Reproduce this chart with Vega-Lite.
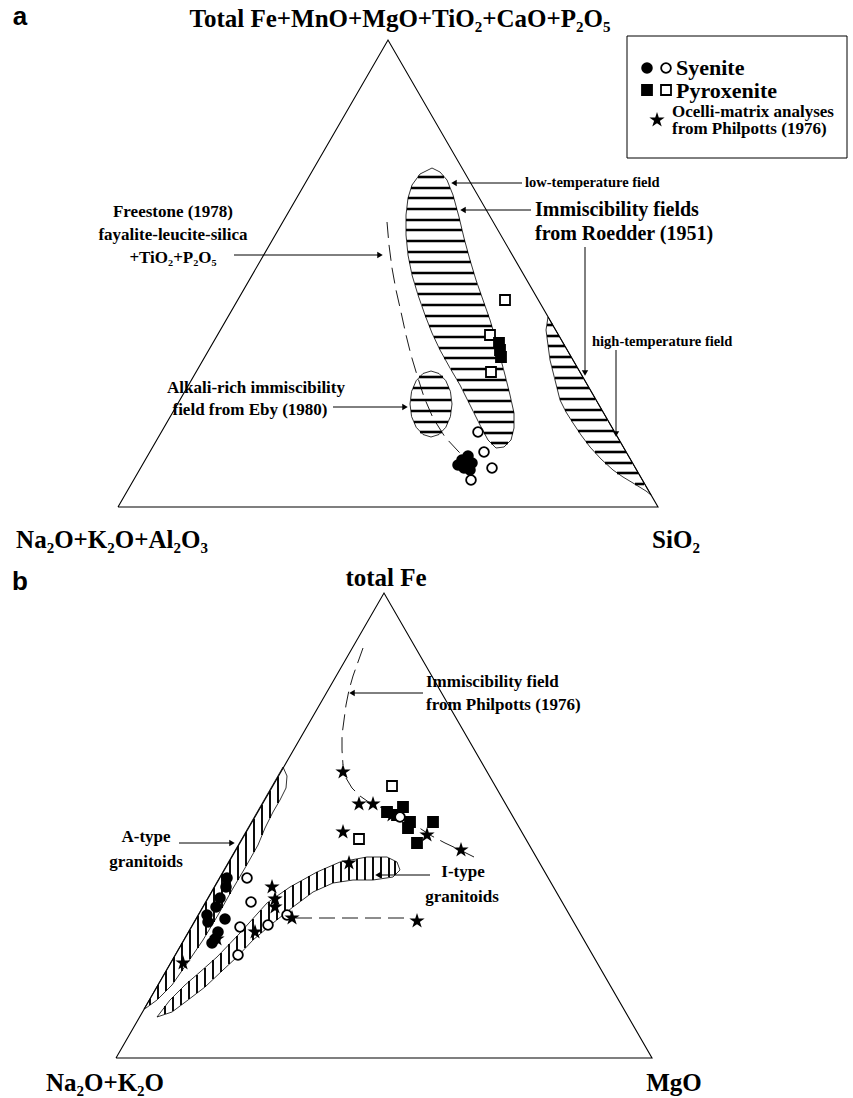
{
"$schema": "https://vega.github.io/schema/vega-lite/v6.json",
"width": 853, "height": 1098,
"autosize": {"type": "fit", "contains": "padding"},
"padding": 0,
"background": "white",
"config": {"view": {"stroke": null}},
"datasets": {
"tri": [
{"id":"A","o":0,"x":118,"y":507},{"id":"A","o":1,"x":388,"y":40},{"id":"A","o":2,"x":658,"y":507},{"id":"A","o":3,"x":118,"y":507},
{"id":"B","o":0,"x":116,"y":1058},{"id":"B","o":1,"x":384,"y":593},{"id":"B","o":2,"x":652,"y":1058},{"id":"B","o":3,"x":116,"y":1058}
],
"fields": [
{"id":"low","o":0,"x":432,"y":168},{"id":"low","o":1,"x":440,"y":172},{"id":"low","o":2,"x":447,"y":180},{"id":"low","o":3,"x":453,"y":195},{"id":"low","o":4,"x":459,"y":217},{"id":"low","o":5,"x":464,"y":238},{"id":"low","o":6,"x":470,"y":260},{"id":"low","o":7,"x":476,"y":280},{"id":"low","o":8,"x":483,"y":300},{"id":"low","o":9,"x":490,"y":320},{"id":"low","o":10,"x":496,"y":340},{"id":"low","o":11,"x":501,"y":360},{"id":"low","o":12,"x":505,"y":375},{"id":"low","o":13,"x":510,"y":395},{"id":"low","o":14,"x":514,"y":413},{"id":"low","o":15,"x":514,"y":428},{"id":"low","o":16,"x":511,"y":440},{"id":"low","o":17,"x":504,"y":447},{"id":"low","o":18,"x":496,"y":448},{"id":"low","o":19,"x":488,"y":440},{"id":"low","o":20,"x":480,"y":425},{"id":"low","o":21,"x":470,"y":405},{"id":"low","o":22,"x":460,"y":385},{"id":"low","o":23,"x":450,"y":368},{"id":"low","o":24,"x":440,"y":350},{"id":"low","o":25,"x":432,"y":333},{"id":"low","o":26,"x":425,"y":315},{"id":"low","o":27,"x":418,"y":295},{"id":"low","o":28,"x":412,"y":275},{"id":"low","o":29,"x":408,"y":255},{"id":"low","o":30,"x":406,"y":235},{"id":"low","o":31,"x":406,"y":215},{"id":"low","o":32,"x":408,"y":198},{"id":"low","o":33,"x":412,"y":185},{"id":"low","o":34,"x":420,"y":174},{"id":"low","o":35,"x":432,"y":168},
{"id":"high","o":0,"x":548,"y":317},{"id":"high","o":1,"x":651,"y":495},{"id":"high","o":2,"x":646,"y":491},{"id":"high","o":3,"x":633,"y":483},{"id":"high","o":4,"x":623,"y":477},{"id":"high","o":5,"x":613,"y":470},{"id":"high","o":6,"x":601,"y":459},{"id":"high","o":7,"x":590,"y":447},{"id":"high","o":8,"x":581,"y":435},{"id":"high","o":9,"x":573,"y":423},{"id":"high","o":10,"x":566,"y":412},{"id":"high","o":11,"x":560,"y":400},{"id":"high","o":12,"x":555,"y":380},{"id":"high","o":13,"x":553,"y":372},{"id":"high","o":14,"x":550,"y":360},{"id":"high","o":15,"x":548,"y":345},{"id":"high","o":16,"x":546,"y":330},{"id":"high","o":17,"x":548,"y":317},
{"id":"eby","o":0,"x":452,"y":404},{"id":"eby","o":1,"x":450.4,"y":416.6},{"id":"eby","o":2,"x":445.8,"y":427.3},{"id":"eby","o":3,"x":439,"y":434.5},{"id":"eby","o":4,"x":431,"y":437},{"id":"eby","o":5,"x":423,"y":434.5},{"id":"eby","o":6,"x":416.2,"y":427.3},{"id":"eby","o":7,"x":411.6,"y":416.6},{"id":"eby","o":8,"x":410,"y":404},{"id":"eby","o":9,"x":411.6,"y":391.4},{"id":"eby","o":10,"x":416.2,"y":380.7},{"id":"eby","o":11,"x":423,"y":373.5},{"id":"eby","o":12,"x":431,"y":371},{"id":"eby","o":13,"x":439,"y":373.5},{"id":"eby","o":14,"x":445.8,"y":380.7},{"id":"eby","o":15,"x":450.4,"y":391.4},{"id":"eby","o":16,"x":452,"y":404},
{"id":"at","o":0,"x":283,"y":767},{"id":"at","o":1,"x":287,"y":776},{"id":"at","o":2,"x":286,"y":788},{"id":"at","o":3,"x":280,"y":800},{"id":"at","o":4,"x":273,"y":812},{"id":"at","o":5,"x":265,"y":828},{"id":"at","o":6,"x":258,"y":845},{"id":"at","o":7,"x":245,"y":868},{"id":"at","o":8,"x":232,"y":890},{"id":"at","o":9,"x":218,"y":915},{"id":"at","o":10,"x":203,"y":940},{"id":"at","o":11,"x":188,"y":962},{"id":"at","o":12,"x":172,"y":985},{"id":"at","o":13,"x":157,"y":1000},{"id":"at","o":14,"x":146,"y":1008},{"id":"at","o":15,"x":144,"y":1009},{"id":"at","o":16,"x":283,"y":767},
{"id":"it","o":0,"x":157,"y":1017},{"id":"it","o":1,"x":170,"y":1000},{"id":"it","o":2,"x":185,"y":985},{"id":"it","o":3,"x":200,"y":972},{"id":"it","o":4,"x":217,"y":957},{"id":"it","o":5,"x":240,"y":933},{"id":"it","o":6,"x":267,"y":903},{"id":"it","o":7,"x":290,"y":887},{"id":"it","o":8,"x":317,"y":872},{"id":"it","o":9,"x":340,"y":862},{"id":"it","o":10,"x":367,"y":857},{"id":"it","o":11,"x":387,"y":857},{"id":"it","o":12,"x":397,"y":862},{"id":"it","o":13,"x":400,"y":870},{"id":"it","o":14,"x":393,"y":877},{"id":"it","o":15,"x":373,"y":880},{"id":"it","o":16,"x":353,"y":880},{"id":"it","o":17,"x":333,"y":883},{"id":"it","o":18,"x":313,"y":892},{"id":"it","o":19,"x":293,"y":907},{"id":"it","o":20,"x":273,"y":923},{"id":"it","o":21,"x":253,"y":940},{"id":"it","o":22,"x":237,"y":957},{"id":"it","o":23,"x":223,"y":970},{"id":"it","o":24,"x":205,"y":987},{"id":"it","o":25,"x":188,"y":1000},{"id":"it","o":26,"x":172,"y":1012},{"id":"it","o":27,"x":157,"y":1017}
],
"dashed": [
{"id":"fs","o":0,"x":387,"y":222},{"id":"fs","o":1,"x":389,"y":245},{"id":"fs","o":2,"x":392,"y":268},{"id":"fs","o":3,"x":396,"y":290},{"id":"fs","o":4,"x":401,"y":312},{"id":"fs","o":5,"x":406,"y":335},{"id":"fs","o":6,"x":411,"y":355},{"id":"fs","o":7,"x":417,"y":375},{"id":"fs","o":8,"x":424,"y":397},{"id":"fs","o":9,"x":433,"y":418},{"id":"fs","o":10,"x":445,"y":437},{"id":"fs","o":11,"x":458,"y":451},{"id":"fs","o":12,"x":464,"y":457},
{"id":"ph","o":0,"x":363,"y":648},{"id":"ph","o":1,"x":358,"y":662},{"id":"ph","o":2,"x":353,"y":676},{"id":"ph","o":3,"x":349,"y":690},{"id":"ph","o":4,"x":346,"y":705},{"id":"ph","o":5,"x":344,"y":720},{"id":"ph","o":6,"x":342,"y":735},{"id":"ph","o":7,"x":342,"y":750},{"id":"ph","o":8,"x":343,"y":765},
{"id":"ph2","o":0,"x":346,"y":778},{"id":"ph2","o":1,"x":352,"y":788},{"id":"ph2","o":2,"x":360,"y":796},{"id":"ph2","o":3,"x":370,"y":803},{"id":"ph2","o":4,"x":385,"y":809},{"id":"ph2","o":5,"x":400,"y":816},{"id":"ph2","o":6,"x":415,"y":825},{"id":"ph2","o":7,"x":430,"y":835},{"id":"ph2","o":8,"x":445,"y":843},{"id":"ph2","o":9,"x":460,"y":850},{"id":"ph2","o":10,"x":474,"y":857},
{"id":"hz","o":0,"x":296,"y":918},{"id":"hz","o":1,"x":408,"y":918}
],
"hatch": [
{"g":"a","x":418,"x2":444,"y":177,"y2":177},{"g":"a","x":411,"x2":450,"y":188,"y2":188},{"g":"a","x":408,"x2":454,"y":198,"y2":198},{"g":"a","x":407,"x2":457,"y":209,"y2":209},{"g":"a","x":406,"x2":460,"y":220,"y2":220},{"g":"a","x":406,"x2":462,"y":230,"y2":230},{"g":"a","x":407,"x2":465,"y":241,"y2":241},{"g":"a","x":408,"x2":468,"y":252,"y2":252},{"g":"a","x":409,"x2":471,"y":262,"y2":262},{"g":"a","x":412,"x2":474,"y":273,"y2":273},{"g":"a","x":415,"x2":477,"y":284,"y2":284},{"g":"a","x":418,"x2":481,"y":294,"y2":294},{"g":"a","x":422,"x2":485,"y":305,"y2":305},{"g":"a","x":425,"x2":489,"y":316,"y2":316},{"g":"a","x":429,"x2":492,"y":326,"y2":326},{"g":"a","x":434,"x2":495,"y":337,"y2":337},{"g":"a","x":439,"x2":498,"y":348,"y2":348},{"g":"a","x":444,"x2":500,"y":358,"y2":358},{"g":"a","x":451,"x2":503,"y":369,"y2":369},{"g":"a","x":457,"x2":506,"y":380,"y2":380},{"g":"a","x":463,"x2":509,"y":390,"y2":390},{"g":"a","x":468,"x2":511,"y":401,"y2":401},{"g":"a","x":474,"x2":514,"y":412,"y2":412},{"g":"a","x":479,"x2":514,"y":422,"y2":422},{"g":"a","x":484,"x2":513,"y":433,"y2":433},{"g":"a","x":491,"x2":508,"y":443,"y2":443},
{"g":"a","x":419,"x2":443,"y":377,"y2":377},{"g":"a","x":413,"x2":449,"y":388,"y2":388},{"g":"a","x":411,"x2":451,"y":400,"y2":400},{"g":"a","x":411,"x2":451,"y":411,"y2":411},{"g":"a","x":414,"x2":448,"y":422,"y2":422},{"g":"a","x":420,"x2":442,"y":432,"y2":432},
{"g":"a","x":547,"x2":553,"y":325,"y2":325},{"g":"a","x":547,"x2":559,"y":336,"y2":336},{"g":"a","x":548,"x2":565,"y":346,"y2":346},{"g":"a","x":550,"x2":571,"y":357,"y2":357},{"g":"a","x":552,"x2":577,"y":367,"y2":367},{"g":"a","x":555,"x2":583,"y":378,"y2":378},{"g":"a","x":557,"x2":589,"y":388,"y2":388},{"g":"a","x":560,"x2":595,"y":399,"y2":399},{"g":"a","x":565,"x2":602,"y":410,"y2":410},{"g":"a","x":571,"x2":607,"y":420,"y2":420},{"g":"a","x":578,"x2":614,"y":431,"y2":431},{"g":"a","x":586,"x2":620,"y":442,"y2":442},{"g":"a","x":595,"x2":626,"y":452,"y2":452},{"g":"a","x":605,"x2":632,"y":463,"y2":463},{"g":"a","x":617,"x2":638,"y":473,"y2":473},{"g":"a","x":635,"x2":644,"y":484,"y2":484},
{"g":"b","x":150,"x2":150,"y":999,"y2":1005},{"g":"b","x":158,"x2":158,"y":985,"y2":999},{"g":"b","x":166,"x2":166,"y":971,"y2":991},{"g":"b","x":174,"x2":174,"y":957,"y2":982},{"g":"b","x":182,"x2":182,"y":943,"y2":971},{"g":"b","x":190,"x2":190,"y":930,"y2":959},{"g":"b","x":198,"x2":198,"y":916,"y2":948},{"g":"b","x":206,"x2":206,"y":902,"y2":935},{"g":"b","x":214,"x2":214,"y":888,"y2":922},{"g":"b","x":222,"x2":222,"y":874,"y2":908},{"g":"b","x":230,"x2":230,"y":860,"y2":894},{"g":"b","x":238,"x2":238,"y":846,"y2":880},{"g":"b","x":246,"x2":246,"y":832,"y2":866},{"g":"b","x":254,"x2":254,"y":819,"y2":852},{"g":"b","x":262,"x2":262,"y":805,"y2":835},{"g":"b","x":270,"x2":270,"y":791,"y2":818},{"g":"b","x":278,"x2":278,"y":777,"y2":803},
{"g":"b","x":165,"x2":165,"y":1006,"y2":1014},{"g":"b","x":173,"x2":173,"y":997,"y2":1011},{"g":"b","x":181,"x2":181,"y":989,"y2":1005},{"g":"b","x":189,"x2":189,"y":981,"y2":999},{"g":"b","x":197,"x2":197,"y":975,"y2":993},{"g":"b","x":205,"x2":205,"y":968,"y2":987},{"g":"b","x":213,"x2":213,"y":960,"y2":979},{"g":"b","x":221,"x2":221,"y":953,"y2":972},{"g":"b","x":229,"x2":229,"y":944,"y2":964},{"g":"b","x":237,"x2":237,"y":936,"y2":957},{"g":"b","x":245,"x2":245,"y":927,"y2":948},{"g":"b","x":253,"x2":253,"y":919,"y2":940},{"g":"b","x":261,"x2":261,"y":910,"y2":933},{"g":"b","x":269,"x2":269,"y":902,"y2":926},{"g":"b","x":277,"x2":277,"y":896,"y2":920},{"g":"b","x":285,"x2":285,"y":890,"y2":913},{"g":"b","x":293,"x2":293,"y":885,"y2":907},{"g":"b","x":301,"x2":301,"y":881,"y2":901},{"g":"b","x":309,"x2":309,"y":876,"y2":895},{"g":"b","x":317,"x2":317,"y":872,"y2":890},{"g":"b","x":325,"x2":325,"y":868,"y2":887},{"g":"b","x":333,"x2":333,"y":865,"y2":883},{"g":"b","x":341,"x2":341,"y":862,"y2":882},{"g":"b","x":349,"x2":349,"y":860,"y2":880},{"g":"b","x":357,"x2":357,"y":859,"y2":880},{"g":"b","x":365,"x2":365,"y":857,"y2":880},{"g":"b","x":373,"x2":373,"y":857,"y2":880},{"g":"b","x":381,"x2":381,"y":857,"y2":878},{"g":"b","x":389,"x2":389,"y":858,"y2":877},{"g":"b","x":395,"x2":395,"y":861,"y2":875}
],
"arrows": [
{"x":234,"y":255,"x2":380,"y2":255,"dir":"right"},
{"x":333,"y":407,"x2":405,"y2":407,"dir":"right"},
{"x":522,"y":183,"x2":454,"y2":183,"dir":"left"},
{"x":531,"y":210,"x2":463,"y2":210,"dir":"left"},
{"x":585,"y":247,"x2":585,"y2":373,"dir":"down"},
{"x":616,"y":350,"x2":616,"y2":434,"dir":"down"},
{"x":423,"y":693,"x2":352,"y2":693,"dir":"left"},
{"x":179,"y":843,"x2":232,"y2":843,"dir":"right"},
{"x":430,"y":875,"x2":378,"y2":875,"dir":"left"}
],
"box": [{"x":627,"x2":847,"y":36,"y2":158}],
"pts": [
{"x":462,"y":460,"rock":"Syenite","style":"filled"},{"x":468,"y":456,"rock":"Syenite","style":"filled"},{"x":472,"y":463,"rock":"Syenite","style":"filled"},{"x":464,"y":468,"rock":"Syenite","style":"filled"},{"x":458,"y":465,"rock":"Syenite","style":"filled"},{"x":470,"y":470,"rock":"Syenite","style":"filled"},{"x":466,"y":462,"rock":"Syenite","style":"filled"},
{"x":478,"y":432,"rock":"Syenite","style":"open"},{"x":484,"y":452,"rock":"Syenite","style":"open"},{"x":492,"y":468,"rock":"Syenite","style":"open"},{"x":471,"y":480,"rock":"Syenite","style":"open"},
{"x":505,"y":300,"rock":"Pyroxenite","style":"open"},{"x":490,"y":335,"rock":"Pyroxenite","style":"open"},{"x":491,"y":372,"rock":"Pyroxenite","style":"open"},
{"x":499,"y":343,"rock":"Pyroxenite","style":"filled"},{"x":500,"y":350,"rock":"Pyroxenite","style":"filled"},{"x":501,"y":357,"rock":"Pyroxenite","style":"filled"},
{"x":647,"y":68,"rock":"Syenite","style":"filled"},{"x":666,"y":68,"rock":"Syenite","style":"open"},{"x":647,"y":90,"rock":"Pyroxenite","style":"filled"},{"x":666,"y":90,"rock":"Pyroxenite","style":"open"},{"x":657,"y":120,"rock":"Ocelli","style":"filled"},
{"x":227,"y":878,"rock":"Syenite","style":"filled"},{"x":226,"y":887,"rock":"Syenite","style":"filled"},{"x":220,"y":898,"rock":"Syenite","style":"filled"},{"x":216,"y":907,"rock":"Syenite","style":"filled"},{"x":207,"y":915,"rock":"Syenite","style":"filled"},{"x":208,"y":922,"rock":"Syenite","style":"filled"},{"x":225,"y":919,"rock":"Syenite","style":"filled"},{"x":218,"y":932,"rock":"Syenite","style":"filled"},{"x":212,"y":943,"rock":"Syenite","style":"filled"},{"x":215,"y":939,"rock":"Syenite","style":"filled"},
{"x":247,"y":878,"rock":"Syenite","style":"open"},{"x":251,"y":902,"rock":"Syenite","style":"open"},{"x":240,"y":927,"rock":"Syenite","style":"open"},{"x":268,"y":925,"rock":"Syenite","style":"open"},{"x":287,"y":915,"rock":"Syenite","style":"open"},{"x":238,"y":955,"rock":"Syenite","style":"open"},
{"x":392,"y":786,"rock":"Pyroxenite","style":"open"},{"x":359,"y":839,"rock":"Pyroxenite","style":"open"},
{"x":387,"y":812,"rock":"Pyroxenite","style":"filled"},{"x":403,"y":807,"rock":"Pyroxenite","style":"filled"},{"x":397,"y":815,"rock":"Pyroxenite","style":"filled"},{"x":410,"y":822,"rock":"Pyroxenite","style":"filled"},{"x":433,"y":822,"rock":"Pyroxenite","style":"filled"},{"x":417,"y":843,"rock":"Pyroxenite","style":"filled"},{"x":408,"y":828,"rock":"Pyroxenite","style":"filled"},
{"x":343,"y":772,"rock":"Ocelli","style":"filled"},{"x":359,"y":804,"rock":"Ocelli","style":"filled"},{"x":373,"y":804,"rock":"Ocelli","style":"filled"},{"x":343,"y":832,"rock":"Ocelli","style":"filled"},{"x":392,"y":815,"rock":"Ocelli","style":"filled"},{"x":427,"y":835,"rock":"Ocelli","style":"filled"},{"x":461,"y":850,"rock":"Ocelli","style":"filled"},{"x":349,"y":863,"rock":"Ocelli","style":"filled"},{"x":272,"y":887,"rock":"Ocelli","style":"filled"},{"x":275,"y":899,"rock":"Ocelli","style":"filled"},{"x":275,"y":907,"rock":"Ocelli","style":"filled"},{"x":292,"y":918,"rock":"Ocelli","style":"filled"},{"x":255,"y":932,"rock":"Ocelli","style":"filled"},{"x":217,"y":939,"rock":"Ocelli","style":"filled"},{"x":183,"y":963,"rock":"Ocelli","style":"filled"},{"x":417,"y":921,"rock":"Ocelli","style":"filled"},
{"x":400,"y":817,"rock":"Syenite","style":"open"}
],
"texts": [
{"role":"letter","x":20,"y":17,"label":"a"},
{"role":"letter","x":20,"y":582,"label":"b"},
{"role":"vertex","x":400,"y":19,"label":"Total Fe+MnO+MgO+TiO₂+CaO+P₂O₅"},
{"role":"vertex","x":112,"y":540,"label":"Na₂O+K₂O+Al₂O₃"},
{"role":"vertex","x":676,"y":540,"label":"SiO₂"},
{"role":"vertex","x":386,"y":578,"label":"total Fe"},
{"role":"vertex","x":105,"y":1083,"label":"Na₂O+K₂O"},
{"role":"vertex","x":674,"y":1083,"label":"MgO"},
{"role":"notec","x":173,"y":212,"label":"Freestone (1978)"},
{"role":"notec","x":173,"y":235,"label":"fayalite-leucite-silica"},
{"role":"notec","x":173,"y":258,"label":"+TiO₂+P₂O₅"},
{"role":"notec","x":256,"y":388,"label":"Alkali-rich immiscibility"},
{"role":"notec","x":250,"y":410,"label":"field from Eby (1980)"},
{"role":"notec","x":146,"y":837,"label":"A-type"},
{"role":"notec","x":146,"y":862,"label":"granitoids"},
{"role":"notec","x":463,"y":872,"label":"I-type"},
{"role":"notec","x":462,"y":897,"label":"granitoids"},
{"role":"noteb","x":535,"y":210,"label":"Immiscibility fields"},
{"role":"noteb","x":535,"y":234,"label":"from Roedder (1951)"},
{"role":"notel","x":426,"y":682,"label":"Immiscibility field"},
{"role":"notel","x":426,"y":705,"label":"from Philpotts (1976)"},
{"role":"small","x":525,"y":183,"label":"low-temperature field"},
{"role":"small","x":592,"y":342,"label":"high-temperature field"},
{"role":"legend","x":676,"y":68,"label":"Syenite"},
{"role":"legend","x":676,"y":91,"label":"Pyroxenite"},
{"role":"legend2","x":672,"y":112,"label":"Ocelli-matrix analyses"},
{"role":"legend2","x":672,"y":129,"label":"from Philpotts (1976)"}
]
},
"encoding": {
"x": {"field":"x","type":"quantitative","scale":{"domain":[0,853],"nice":false,"zero":false},"axis":null},
"y": {"field":"y","type":"quantitative","scale":{"domain":[0,1098],"nice":false,"zero":false,"reverse":true},"axis":null}
},
"layer": [
{"data":{"name":"tri"},"mark":{"type":"line","color":"black","strokeWidth":1.1},"encoding":{"detail":{"field":"id"},"order":{"field":"o","type":"quantitative"}}},
{"data":{"name":"fields"},"mark":{"type":"line","color":"black","strokeWidth":0.8},"encoding":{"detail":{"field":"id"},"order":{"field":"o","type":"quantitative"}}},
{"data":{"name":"hatch"},"transform":[{"filter":"datum.g == 'a'"}],"mark":{"type":"rule","color":"black","strokeWidth":2.6},"encoding":{"x2":{"field":"x2"},"y2":{"field":"y2"}}},
{"data":{"name":"hatch"},"transform":[{"filter":"datum.g == 'b'"}],"mark":{"type":"rule","color":"black","strokeWidth":1.9},"encoding":{"x2":{"field":"x2"},"y2":{"field":"y2"}}},
{"data":{"name":"dashed"},"mark":{"type":"line","color":"black","strokeWidth":0.9,"strokeDash":[16,7]},"encoding":{"detail":{"field":"id"},"order":{"field":"o","type":"quantitative"}}},
{"data":{"name":"arrows"},"mark":{"type":"rule","color":"black","strokeWidth":1},"encoding":{"x2":{"field":"x2"},"y2":{"field":"y2"}}},
{"data":{"name":"arrows"},"mark":{"type":"point","filled":true,"color":"black","opacity":1,"size":40},"encoding":{"x":{"field":"x2","type":"quantitative"},"y":{"field":"y2","type":"quantitative"},"shape":{"field":"dir","type":"nominal","scale":{"domain":["left","right","down"],"range":["triangle-left","triangle-right","triangle-down"]},"legend":null}}},
{"data":{"name":"box"},"mark":{"type":"rect","fill":"transparent","stroke":"black","strokeWidth":1},"encoding":{"x2":{"field":"x2"},"y2":{"field":"y2"}}},
{"data":{"name":"pts"},"mark":{"type":"point","filled":true,"stroke":"black","strokeWidth":1.8,"opacity":1},"encoding":{
"shape":{"field":"rock","type":"nominal","scale":{"domain":["Syenite","Pyroxenite","Ocelli"],"range":["circle","square","M0,-1L0.2245,-0.309L0.9511,-0.309L0.3633,0.118L0.5878,0.809L0,0.382L-0.5878,0.809L-0.3633,0.118L-0.9511,-0.309L-0.2245,-0.309Z"]},"legend":null},
"fill":{"field":"style","type":"nominal","scale":{"domain":["filled","open"],"range":["black","white"]},"legend":null},
"size":{"field":"rock","type":"nominal","scale":{"domain":["Syenite","Pyroxenite","Ocelli"],"range":[95,105,150]},"legend":null}}},
{"data":{"name":"texts"},"transform":[{"filter":"datum.role == 'letter'"}],"mark":{"type":"text","font":"Liberation Sans","fontWeight":"bold","fontSize":26,"align":"center","baseline":"middle"},"encoding":{"text":{"field":"label"}}},
{"data":{"name":"texts"},"transform":[{"filter":"datum.role == 'vertex'"}],"mark":{"type":"text","font":"Liberation Serif","fontWeight":"bold","fontSize":25,"align":"center","baseline":"middle"},"encoding":{"text":{"field":"label"}}},
{"data":{"name":"texts"},"transform":[{"filter":"datum.role == 'notec'"}],"mark":{"type":"text","font":"Liberation Serif","fontWeight":"bold","fontSize":17,"align":"center","baseline":"middle"},"encoding":{"text":{"field":"label"}}},
{"data":{"name":"texts"},"transform":[{"filter":"datum.role == 'noteb'"}],"mark":{"type":"text","font":"Liberation Serif","fontWeight":"bold","fontSize":20,"align":"left","baseline":"middle"},"encoding":{"text":{"field":"label"}}},
{"data":{"name":"texts"},"transform":[{"filter":"datum.role == 'notel'"}],"mark":{"type":"text","font":"Liberation Serif","fontWeight":"bold","fontSize":17,"align":"left","baseline":"middle"},"encoding":{"text":{"field":"label"}}},
{"data":{"name":"texts"},"transform":[{"filter":"datum.role == 'small'"}],"mark":{"type":"text","font":"Liberation Serif","fontWeight":"bold","fontSize":14.5,"align":"left","baseline":"middle"},"encoding":{"text":{"field":"label"}}},
{"data":{"name":"texts"},"transform":[{"filter":"datum.role == 'legend'"}],"mark":{"type":"text","font":"Liberation Serif","fontWeight":"bold","fontSize":22,"align":"left","baseline":"middle"},"encoding":{"text":{"field":"label"}}},
{"data":{"name":"texts"},"transform":[{"filter":"datum.role == 'legend2'"}],"mark":{"type":"text","font":"Liberation Serif","fontWeight":"bold","fontSize":17,"align":"left","baseline":"middle"},"encoding":{"text":{"field":"label"}}}
],
"resolve": {"scale": {"shape":"independent","fill":"independent","size":"independent"}}
}
